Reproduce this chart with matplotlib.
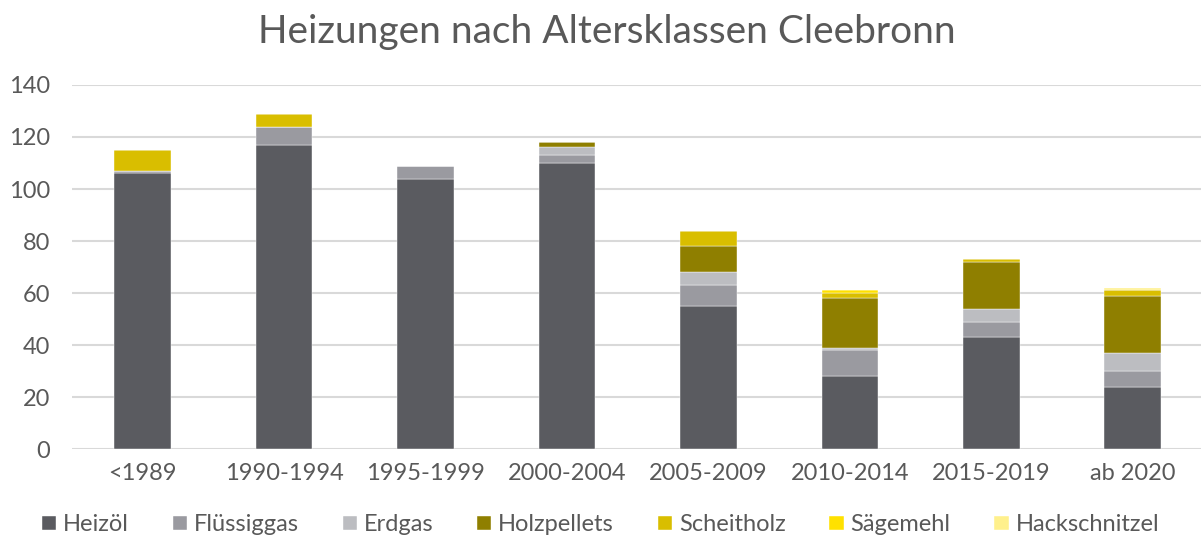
import matplotlib.pyplot as plt
import numpy as np

# data
categories = ["<1989", "1990-1994", "1995-1999", "2000-2004",
              "2005-2009", "2010-2014", "2015-2019", "ab 2020"]
heizoel = [106, 117, 104, 110, 55, 28, 43, 24]
fluessiggas = [1, 7, 5, 3, 8, 10, 6, 6]
erdgas = [0, 0, 0, 3, 5, 1, 5, 7]
holzpellets = [0, 0, 0, 2, 10, 19, 18, 22]
scheitholz = [8, 5, 0, 0, 6, 2, 1, 2]
saegemehl = [0, 0, 0, 0, 0, 1, 0, 0]
hackschnitzel = [0, 0, 0, 0, 0, 0, 0, 1]

series = [
    ("Heizöl", heizoel, "#5a5b60"),
    ("Flüssiggas", fluessiggas, "#9a9aa0"),
    ("Erdgas", erdgas, "#bcbdc1"),
    ("Holzpellets", holzpellets, "#8f7f00"),
    ("Scheitholz", scheitholz, "#d9be00"),
    ("Sägemehl", saegemehl, "#ffe100"),
    ("Hackschnitzel", hackschnitzel, "#fff08c"),
]

plt.rcParams["font.family"] = ["Lato", "DejaVu Sans"]
text_color = "#595959"

fig = plt.figure(figsize=(12.01, 5.43), dpi=100)
ax = fig.add_axes([0.06, 0.173, 0.942, 0.6705])

x = np.arange(len(categories))
bottom = np.zeros(len(categories))
for name, vals, color in series:
    ax.bar(x, vals, bottom=bottom, width=0.4, color=color, label=name,
           edgecolor="white", linewidth=0.3, zorder=3)
    bottom += np.array(vals)

ax.set_xlim(-0.5, len(categories) - 0.5)
ax.set_ylim(0, 140)
ax.set_yticks(range(0, 141, 20))
ax.set_xticks(x)
ax.set_xticklabels(categories)
ax.grid(axis="y", color="#d9d9d9", linewidth=1.5, zorder=0)
for s in ax.spines.values():
    s.set_visible(False)
ax.tick_params(axis="both", length=0, labelsize=17, colors=text_color)
ax.tick_params(axis="x", pad=10)
ax.tick_params(axis="y", pad=16)

fig.suptitle("Heizungen nach Altersklassen Cleebronn", x=0.505, y=0.975,
             fontsize=28, color=text_color)

fig.legend(loc="lower center", bbox_to_anchor=(0.5, -0.025), ncol=7,
           frameon=False, fontsize=17, handlelength=0.6, handleheight=0.6,
           handletextpad=0.3, columnspacing=1.85, labelcolor=text_color)

fig.savefig("out.png", dpi=100)
